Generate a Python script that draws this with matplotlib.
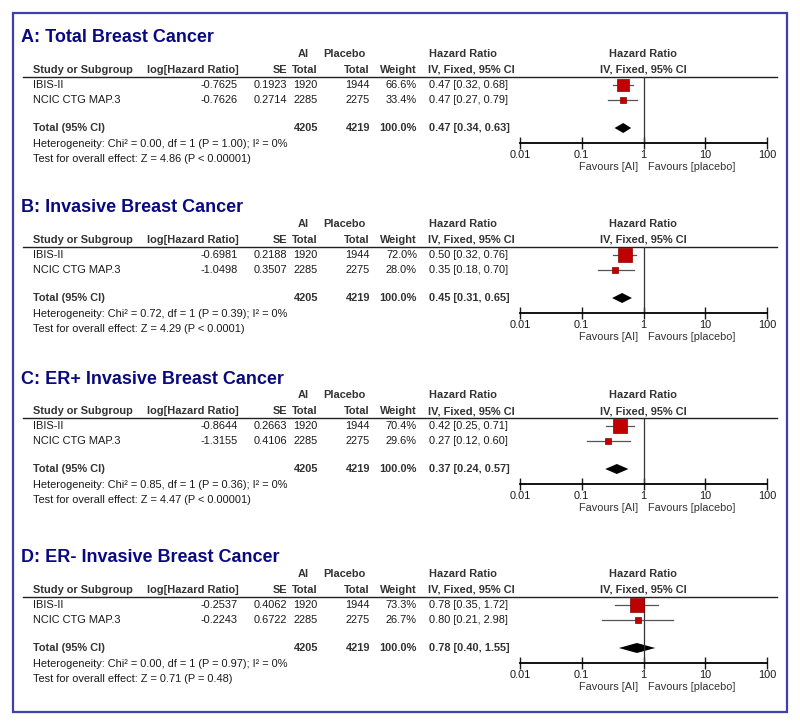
import matplotlib
matplotlib.use("Agg")
import matplotlib.pyplot as plt
from matplotlib.patches import Rectangle

plt.rcParams['font.family'] = ['Liberation Sans', 'DejaVu Sans']

titles = ["A: Total Breast Cancer", "B: Invasive Breast Cancer",
          "C: ER+ Invasive Breast Cancer", "D: ER- Invasive Breast Cancer"]
studies = ["IBIS-II", "NCIC CTG MAP.3"]
ai_n = [1920, 2285]
placebo_n = [1944, 2275]
ai_total = 4205
placebo_total = 4219

log_hr = [[-0.7625, -0.7626], [-0.6981, -1.0498],
          [-0.8644, -1.3155], [-0.2537, -0.2243]]
se = [[0.1923, 0.2714], [0.2188, 0.3507],
      [0.2663, 0.4106], [0.4062, 0.6722]]
weights = [[66.6, 33.4], [72.0, 28.0], [70.4, 29.6], [73.3, 26.7]]
hr = [[0.47, 0.47], [0.50, 0.35], [0.42, 0.27], [0.78, 0.80]]
hr_lo = [[0.32, 0.27], [0.32, 0.18], [0.25, 0.12], [0.35, 0.21]]
hr_hi = [[0.68, 0.79], [0.76, 0.70], [0.71, 0.60], [1.72, 2.98]]
total_hr = [0.47, 0.45, 0.37, 0.78]
total_lo = [0.34, 0.31, 0.24, 0.40]
total_hi = [0.63, 0.65, 0.57, 1.55]
chi2 = ["0.00", "0.72", "0.85", "0.00"]
het_p = ["1.00", "0.39", "0.36", "0.97"]
z_val = ["4.86", "4.29", "4.47", "0.71"]
z_p = ["P < 0.00001", "P < 0.0001", "P < 0.00001", "P = 0.48"]
xticks = [0.01, 0.1, 1, 10, 100]
xtick_labels = ["0.01", "0.1", "1", "10", "100"]

# layout (pixels)
W, H = 800, 726
offsets = [0, 170, 341, 520]
FS = 7.9
HDR = '#333333'
TXT = '#1a1a1a'
RED = '#c00000'

fig = plt.figure(figsize=(W / 100, H / 100), dpi=100)
bg = fig.add_axes([0, 0, 1, 1])
bg.set_xlim(0, W)
bg.set_ylim(H, 0)
bg.axis('off')
bg.add_patch(Rectangle((13, 13), 774, 699, fill=False,
                       edgecolor='#3f3faf', lw=1.6))


def t(x, y, s, ha='left', bold=False, color=TXT, size=FS):
    bg.text(x, y, s, ha=ha, va='center', fontsize=size, color=color,
            fontweight='bold' if bold else 'normal')


for p in range(4):
    o = offsets[p]
    t(21, 38 + o, titles[p], size=13, bold=True, color='#0a0a80')

    # headers
    for x, y, s, ha in [(303, 54, "AI", 'center'), (344, 54, "Placebo", 'center'),
                        (463, 54, "Hazard Ratio", 'center'),
                        (643, 54, "Hazard Ratio", 'center'),
                        (33, 70, "Study or Subgroup", 'left'),
                        (239, 70, "log[Hazard Ratio]", 'right'),
                        (287, 70, "SE", 'right'), (318, 70, "Total", 'right'),
                        (370, 70, "Total", 'right'), (417, 70, "Weight", 'right'),
                        (471, 70, "IV, Fixed, 95% CI", 'center'),
                        (643, 70, "IV, Fixed, 95% CI", 'center')]:
        t(x, y + o, s, ha=ha, bold=True, color=HDR)
    bg.plot([23, 777], [77 + o, 77 + o], color='#222222', lw=1)

    # study rows
    for i in range(2):
        y = 85 + 15 * i + o
        t(33, y, studies[i])
        t(238, y, f"{log_hr[p][i]:.4f}", ha='right')
        t(287, y, f"{se[p][i]:.4f}", ha='right')
        t(318, y, str(ai_n[i]), ha='right')
        t(370, y, str(placebo_n[i]), ha='right')
        t(417, y, f"{weights[p][i]:.1f}%", ha='right')
        t(429, y, f"{hr[p][i]:.2f} [{hr_lo[p][i]:.2f}, {hr_hi[p][i]:.2f}]")

    y = 128 + o
    t(33, y, "Total (95% CI)", bold=True, color=HDR)
    t(318, y, str(ai_total), ha='right', bold=True, color=HDR)
    t(370, y, str(placebo_total), ha='right', bold=True, color=HDR)
    t(417, y, "100.0%", ha='right', bold=True, color=HDR)
    t(429, y, f"{total_hr[p]:.2f} [{total_lo[p]:.2f}, {total_hi[p]:.2f}]",
      bold=True, color=HDR)
    t(33, 144 + o, f"Heterogeneity: Chi² = {chi2[p]}, df = 1 (P = {het_p[p]}); I² = 0%")
    t(33, 159 + o, f"Test for overall effect: Z = {z_val[p]} ({z_p[p]})")

    # forest plot
    ax = fig.add_axes([520 / W, 1 - (143 + o) / H, 247 / W, 66 / H])
    ax.set_xscale('log')
    ax.set_xlim(0.01, 100)
    ax.set_ylim(66, 0)
    ax.patch.set_alpha(0)
    for s in ['top', 'left', 'right']:
        ax.spines[s].set_visible(False)
    ax.spines['bottom'].set_linewidth(1.3)
    ax.set_xticks(xticks)
    ax.set_xticklabels(xtick_labels)
    ax.minorticks_off()
    ax.set_yticks([])
    ax.tick_params(axis='x', direction='inout', length=8, width=1,
                   pad=1, labelsize=FS, colors=TXT)
    ax.axvline(1, color='#333333', lw=0.9)
    for i in range(2):
        yy = 8 + 15 * i
        ax.plot([hr_lo[p][i], hr_hi[p][i]], [yy, yy], color='#555555', lw=0.9)
        ax.plot(hr[p][i], yy, marker='s', ms=weights[p][i] * 0.195 * 0.72,
                color=RED, mec='#8a0000', mew=0.5)
    yy = 51
    ax.fill([total_lo[p], total_hr[p], total_hi[p], total_hr[p]],
            [yy, yy - 5, yy, yy + 5], color='black', lw=0)

    t(638, 167 + o, "Favours [AI]", ha='right', color='#333333')
    t(648, 167 + o, "Favours [placebo]", ha='left', color='#333333')

fig.savefig("out.png", dpi=100)
